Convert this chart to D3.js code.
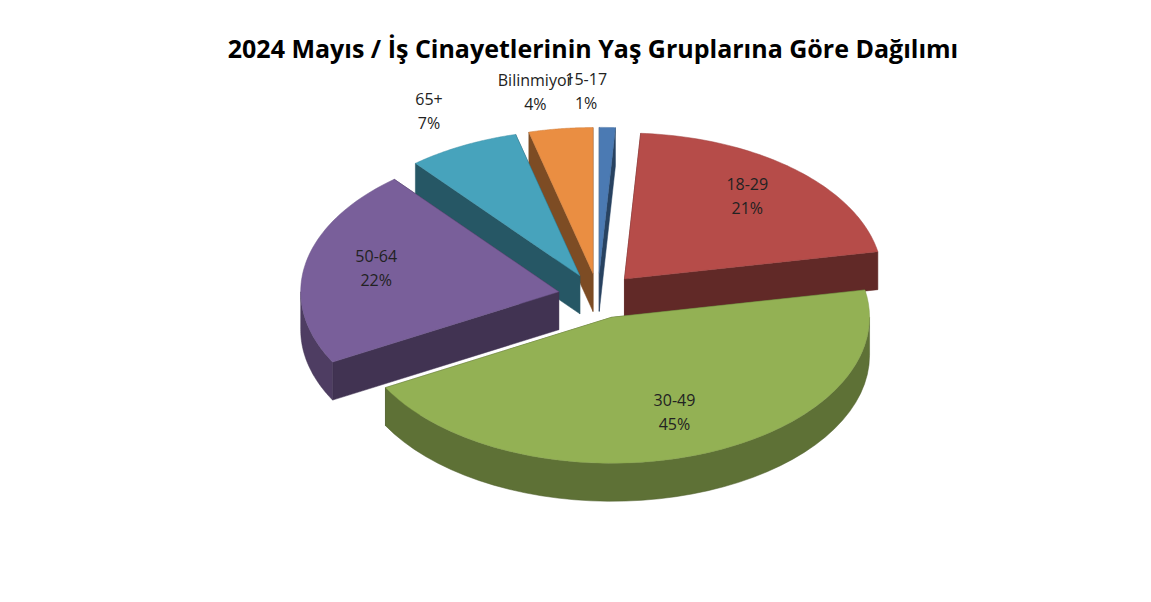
<!DOCTYPE html>
<html>
<head>
<meta charset="utf-8">
<script src="https://cdn.jsdelivr.net/npm/d3@7"></script>
<style>body{margin:0;background:#fff;}</style>
</head>
<body>
<svg id="chart" width="1151" height="602"></svg>
<script>
// data
var categories = ["15-17", "18-29", "30-49", "50-64", "65+", "Bilinmiyor"];
var percents = [1, 21, 45, 22, 7, 4];
var colors = ["#4f81bd", "#c0504d", "#9bbb59", "#8064a2", "#4bacc6", "#f79646"];
var outsideLabel = [true, false, false, false, true, true];

var svg = d3.select("#chart");
var cx = 598, cy = 296, rx = 258, ry = 146, depth = 38, explode = 40;

svg.append("text").attr("x", 593).attr("y", 58).attr("text-anchor", "middle")
  .style("font-family", "Open Sans, sans-serif").style("font-weight", "bold").style("font-size", "25px")
  .text("2024 Mayıs / İş Cinayetlerinin Yaş Gruplarına Göre Dağılımı");

// angles clockwise from top
var pie = d3.pie().sort(null).value(d => d).startAngle(0).endAngle(2 * Math.PI);
var arcs = pie(percents);

function pt(a, r, ox, oy, dz) {
  return [ox + r * rx * Math.sin(a), oy - r * ry * Math.cos(a) + (dz || 0)];
}

var slices = arcs.map(function (d, i) {
  var mid = (d.startAngle + d.endAngle) / 2;
  var ox = cx + explode * Math.sin(mid);
  var oy = cy - explode * Math.cos(mid) * ry / rx;
  return { d: d, i: i, mid: mid, ox: ox, oy: oy };
});

var line = d3.line();
var g = svg.append("g");

slices.slice().sort((a, b) => a.oy - b.oy).forEach(function (s) {
  var a0 = s.d.startAngle, a1 = s.d.endAngle;
  var base = colors[s.i], dark = d3.color(base).darker(1.9).toString();
  var walls = [];
  [a0, a1].forEach(function (a) {
    var e = pt(a, 1, s.ox, s.oy);
    var pts = [[s.ox, s.oy], e, [e[0], e[1] + depth], [s.ox, s.oy + depth]];
    walls.push({ pts: pts, y: (s.oy + e[1]) / 2 });
  });
  var b0 = Math.max(a0, Math.PI / 2), b1 = Math.min(a1, 3 * Math.PI / 2);
  if (b1 > b0) {
    var topE = d3.range(0, 41).map(k => pt(b0 + (b1 - b0) * k / 40, 1, s.ox, s.oy));
    var botE = topE.map(p => [p[0], p[1] + depth]).reverse();
    walls.push({ pts: topE.concat(botE), y: 1e4, outer: true });
  }
  walls.sort((a, b) => a.y - b.y).forEach(function (w) {
    g.append("path").attr("d", line(w.pts) + "Z")
      .attr("fill", w.outer ? d3.color(base).darker(1.4).toString() : dark)
      .attr("stroke", dark).attr("stroke-width", 0.5);
  });
  var top = [[s.ox, s.oy]].concat(d3.range(0, 61).map(k => pt(a0 + (a1 - a0) * k / 60, 1, s.ox, s.oy)));
  g.append("path").attr("d", line(top) + "Z").attr("fill", d3.color(base).darker(0.15).toString())
    .attr("stroke", d3.color(base).darker(0.5).toString()).attr("stroke-width", 0.5);
});

slices.forEach(function (s) {
  var p;
  if (outsideLabel[s.i]) {
    p = pt(s.mid, 1.1, s.ox, s.oy, -28);
    p[0] += Math.sin(s.mid) >= 0.05 ? 8 : -22;
  } else {
    p = pt(s.mid, 0.72, s.ox, s.oy, -10);
  }
  var t = svg.append("text").attr("text-anchor", "middle")
    .style("font-family", "Open Sans, sans-serif").style("font-size", "16px").attr("fill", "#222");
  t.append("tspan").attr("x", p[0]).attr("y", p[1]).text(categories[s.i]);
  t.append("tspan").attr("x", p[0]).attr("y", p[1] + 24).text(percents[s.i] + "%");
});
</script>
</body>
</html>
